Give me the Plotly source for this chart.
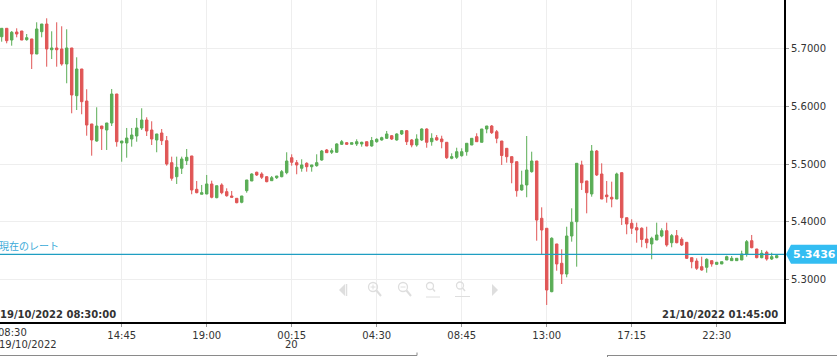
import plotly.graph_objects as go

# ---------------- data ----------------
OPEN = [5.7204, 5.7350, 5.7147, 5.7286, 5.7303, 5.7153, 5.7165, 5.6905, 5.7291, 5.7424,
        5.6979, 5.7009, 5.6992, 5.6732, 5.7009, 5.6183, 5.6645, 5.6091, 5.5693, 5.5398,
        5.5658, 5.5589, 5.5710, 5.6212, 5.5364, 5.5364, 5.5433, 5.5485, 5.5624, 5.5762,
        5.5589, 5.5416, 5.5537, 5.5404, 5.5023, 5.4780, 5.4926, 5.5057, 5.5139, 5.4562,
        5.4476, 5.4481, 5.4654, 5.4417, 5.4637, 5.4521, 5.4446, 5.4406, 5.4337, 5.4538,
        5.4706, 5.4857, 5.4827, 5.4780, 5.4711, 5.4763, 5.4780, 5.4850, 5.5109, 5.5023,
        5.4926, 5.5012, 5.4953, 5.4971, 5.5069, 5.5243, 5.5203, 5.5203, 5.5341, 5.5369,
        5.5341, 5.5347, 5.5347, 5.5386, 5.5312, 5.5386, 5.5416, 5.5445, 5.5490, 5.5416,
        5.5520, 5.5577, 5.5416, 5.5329, 5.5416, 5.5606, 5.5386, 5.5456, 5.5433, 5.5376,
        5.5099, 5.5116, 5.5144, 5.5213, 5.5329, 5.5473, 5.5376, 5.5606, 5.5658, 5.5559,
        5.5398, 5.5272, 5.5127, 5.5040, 5.4550, 5.4637, 5.4867, 5.5052, 5.4060, 5.3887,
        5.2789, 5.3615, 5.3281, 5.3095, 5.3753, 5.4001, 5.4983, 5.4706, 5.4481, 5.5225,
        5.4827, 5.4463, 5.4424, 5.4394, 5.4850, 5.4070, 5.3973, 5.3897, 5.3887, 5.3701,
        5.3615, 5.3684, 5.3753, 5.3845, 5.3637, 5.3759, 5.3696, 5.3644, 5.3378, 5.3320,
        5.3222, 5.3211, 5.3326, 5.3263, 5.3269, 5.3338, 5.3326, 5.3326, 5.3338, 5.3442,
        5.3672, 5.3528, 5.3378, 5.3471, 5.3355, 5.3378]
HIGH = [5.7355, 5.7355, 5.7303, 5.7350, 5.7305, 5.7251, 5.7167, 5.7454, 5.7426, 5.7523,
        5.7298, 5.7454, 5.7385, 5.7333, 5.7011, 5.6848, 5.6647, 5.6294, 5.5695, 5.5982,
        5.5660, 5.5712, 5.6299, 5.6214, 5.5400, 5.5624, 5.5624, 5.5797, 5.5965, 5.5809,
        5.5740, 5.5522, 5.5606, 5.5485, 5.5127, 5.5127, 5.5127, 5.5260, 5.5141, 5.4706,
        5.4637, 5.4810, 5.4711, 5.4626, 5.4666, 5.4579, 5.4533, 5.4408, 5.4448, 5.4725,
        5.4839, 5.4867, 5.4857, 5.4792, 5.4792, 5.4794, 5.4896, 5.5203, 5.5168, 5.5069,
        5.5082, 5.5030, 5.4985, 5.5168, 5.5243, 5.5260, 5.5272, 5.5359, 5.5416, 5.5381,
        5.5371, 5.5428, 5.5386, 5.5388, 5.5468, 5.5445, 5.5473, 5.5572, 5.5502, 5.5532,
        5.5589, 5.5589, 5.5433, 5.5514, 5.5618, 5.5618, 5.5532, 5.5502, 5.5490, 5.5378,
        5.5185, 5.5282, 5.5272, 5.5361, 5.5447, 5.5532, 5.5608, 5.5660, 5.5675, 5.5589,
        5.5400, 5.5274, 5.5129, 5.5042, 5.4884, 5.5485, 5.5213, 5.5054, 5.4250, 5.3889,
        5.3731, 5.3617, 5.3523, 5.3914, 5.4233, 5.5014, 5.5057, 5.4708, 5.5329, 5.5243,
        5.5012, 5.4706, 5.4694, 5.4850, 5.4852, 5.4072, 5.4043, 5.3984, 5.3904, 5.3914,
        5.3741, 5.3984, 5.3887, 5.3984, 5.3788, 5.3857, 5.3731, 5.3646, 5.3380, 5.3367,
        5.3395, 5.3367, 5.3328, 5.3303, 5.3310, 5.3412, 5.3407, 5.3369, 5.3499, 5.3684,
        5.3771, 5.3530, 5.3511, 5.3499, 5.3464, 5.3440]
LOW = [5.7118, 5.7090, 5.7049, 5.7194, 5.7145, 5.7135, 5.6645, 5.6903, 5.7194, 5.6685,
       5.6818, 5.6685, 5.6702, 5.6398, 5.5878, 5.5935, 5.5861, 5.5490, 5.5144, 5.5386,
       5.5243, 5.5243, 5.5658, 5.5300, 5.5040, 5.5109, 5.5300, 5.5386, 5.5589, 5.5485,
       5.5329, 5.5203, 5.5329, 5.4971, 5.4711, 5.4654, 5.4827, 5.4983, 5.4476, 5.4493,
       5.4474, 5.4476, 5.4406, 5.4406, 5.4476, 5.4434, 5.4417, 5.4320, 5.4320, 5.4503,
       5.4704, 5.4792, 5.4740, 5.4683, 5.4706, 5.4740, 5.4770, 5.4822, 5.4971, 5.4822,
       5.4867, 5.4867, 5.4867, 5.4953, 5.5057, 5.5194, 5.5173, 5.5196, 5.5329, 5.5329,
       5.5339, 5.5312, 5.5300, 5.5310, 5.5300, 5.5369, 5.5404, 5.5433, 5.5416, 5.5404,
       5.5502, 5.5329, 5.5289, 5.5300, 5.5398, 5.5282, 5.5317, 5.5404, 5.5272, 5.5087,
       5.5082, 5.5087, 5.5127, 5.5144, 5.5327, 5.5384, 5.5374, 5.5532, 5.5520, 5.5359,
       5.4983, 5.5023, 5.4666, 5.4434, 5.4538, 5.4424, 5.4850, 5.3672, 5.3424, 5.2559,
       5.2779, 5.3152, 5.2922, 5.3038, 5.3655, 5.3222, 5.4550, 5.4146, 5.4434, 5.4792,
       5.4392, 5.4330, 5.4250, 5.4392, 5.3944, 5.3783, 5.3788, 5.3637, 5.3558, 5.3540,
       5.3350, 5.3682, 5.3731, 5.3568, 5.3558, 5.3627, 5.3580, 5.3355, 5.3194, 5.3165,
       5.3152, 5.3118, 5.3222, 5.3256, 5.3267, 5.3336, 5.3324, 5.3324, 5.3336, 5.3395,
       5.3540, 5.3367, 5.3367, 5.3326, 5.3338, 5.3367]
CLOSE = [5.7350, 5.7135, 5.7281, 5.7251, 5.7147, 5.7187, 5.6905, 5.7338, 5.7424, 5.6992,
         5.7009, 5.6979, 5.6732, 5.7009, 5.6195, 5.6645, 5.6079, 5.5675, 5.5416, 5.5658,
         5.5611, 5.5710, 5.6212, 5.5386, 5.5398, 5.5450, 5.5502, 5.5624, 5.5762, 5.5572,
         5.5433, 5.5520, 5.5404, 5.5000, 5.4753, 5.4943, 5.5087, 5.5116, 5.4550, 5.4503,
         5.4503, 5.4654, 5.4424, 5.4624, 5.4503, 5.4451, 5.4424, 5.4330, 5.4446, 5.4723,
         5.4827, 5.4810, 5.4770, 5.4694, 5.4763, 5.4792, 5.4867, 5.5052, 5.5030, 5.4983,
         5.4983, 5.4953, 5.4983, 5.5023, 5.5225, 5.5196, 5.5230, 5.5347, 5.5386, 5.5341,
         5.5369, 5.5386, 5.5376, 5.5312, 5.5407, 5.5428, 5.5456, 5.5520, 5.5433, 5.5520,
         5.5577, 5.5386, 5.5329, 5.5433, 5.5606, 5.5376, 5.5445, 5.5416, 5.5386, 5.5109,
         5.5127, 5.5213, 5.5213, 5.5359, 5.5445, 5.5386, 5.5606, 5.5658, 5.5542, 5.5445,
         5.5147, 5.5127, 5.5023, 5.4538, 5.4637, 5.4896, 5.5052, 5.4030, 5.3857, 5.2818,
         5.3714, 5.3269, 5.3095, 5.3753, 5.3991, 5.5012, 5.4676, 5.4503, 5.5225, 5.4810,
         5.4394, 5.4434, 5.4394, 5.4827, 5.4070, 5.3961, 5.3887, 5.3857, 5.3693, 5.3637,
         5.3714, 5.3771, 5.3845, 5.3598, 5.3759, 5.3637, 5.3598, 5.3367, 5.3308, 5.3194,
         5.3165, 5.3350, 5.3269, 5.3298, 5.3308, 5.3395, 5.3367, 5.3367, 5.3442, 5.3655,
         5.3551, 5.3378, 5.3454, 5.3355, 5.3395, 5.3412]
BAR_INDEX = list(range(len(OPEN)))

TICK_POS = [24, 41, 58, 75, 92, 109, 126, 143]
TICK_TEXT = ["14:45", "19:00", "00:15", "04:30", "08:45", "13:00", "17:15", "22:30"]
SECOND_LINE_POS = [58]
SECOND_LINE_TEXT = ["20"]
FIRST_LABEL = ["08:30", "19/10/2022"]
RANGE_START = "19/10/2022 08:30:00"
RANGE_END = "21/10/2022 01:45:00"
Y_TICKS = [5.3, 5.4, 5.5, 5.6, 5.7]
LAST_RATE = 5.3436
RATE_LABEL = "現在のレート"

# ---------------- styling ----------------
W, H = 837, 357
ML, MR, MT, MB = 0, 53, 0, 35
PW, PH = W - ML - MR, H - MT - MB
X_RANGE = [-0.34, 156.46]
Y_RANGE = [5.2264, 5.784]
GREEN = "#5aad56"
RED = "#e05656"
GRID = "#eeeeee"
TEXT = "#333333"
ICON = "#dedede"
FONT = "DejaVu Sans"


def px(x):
    return x / PW


def py(y):
    return 1 - y / PH


fig = go.Figure()
fig.add_trace(go.Candlestick(
    x=BAR_INDEX, open=OPEN, high=HIGH, low=LOW, close=CLOSE,
    increasing=dict(line=dict(color=GREEN, width=1), fillcolor=GREEN),
    decreasing=dict(line=dict(color=RED, width=1), fillcolor=RED),
    whiskerwidth=0, hoverinfo="skip", showlegend=False))

shapes = []
annotations = []

# current rate line
shapes.append(dict(type="line", xref="paper", yref="y", x0=0, x1=1,
                   y0=LAST_RATE, y1=LAST_RATE, line=dict(color="#1f9ec2", width=1.2)))
annotations.append(dict(xref="paper", yref="y", x=0, y=LAST_RATE, xanchor="left",
                        yanchor="bottom", xshift=-3, yshift=-1, showarrow=False,
                        text=RATE_LABEL,
                        font=dict(family="Noto Sans CJK JP", size=10, color="#3aaad8")))

# right rate tag
yp = (LAST_RATE - Y_RANGE[0]) / (Y_RANGE[1] - Y_RANGE[0])
hh = 9.5 / PH
tip, xa, xr = px(786), px(791), px(840)
shapes.append(dict(type="path", xref="paper", yref="paper",
                   path=f"M {tip},{yp} L {xa},{yp+hh} L {xr},{yp+hh} L {xr},{yp-hh} L {xa},{yp-hh} Z",
                   fillcolor="#33bdf2", line=dict(width=0)))
annotations.append(dict(xref="paper", yref="paper", x=px(815), y=yp, xanchor="center",
                        yanchor="middle", showarrow=False, text="<b>%.4f</b>" % LAST_RATE,
                        font=dict(family=FONT, size=11, color="white")))

# range labels
annotations.append(dict(xref="paper", yref="paper", x=0, y=0, xanchor="left", yanchor="bottom",
                        xshift=-2, showarrow=False, text="<b>%s</b>" % RANGE_START,
                        font=dict(family=FONT, size=10, color=TEXT)))
annotations.append(dict(xref="paper", yref="paper", x=px(780), y=0, xanchor="right",
                        yanchor="bottom", showarrow=False, text="<b>%s</b>" % RANGE_END,
                        font=dict(family=FONT, size=10, color=TEXT)))

# first (clipped) x label and second lines
annotations.append(dict(xref="paper", yref="paper", x=px(-4), y=py(333), xanchor="left",
                        yanchor="middle", showarrow=False, text=FIRST_LABEL[0],
                        font=dict(family=FONT, size=10, color=TEXT)))
annotations.append(dict(xref="paper", yref="paper", x=px(-3), y=py(344), xanchor="left",
                        yanchor="middle", showarrow=False, text=FIRST_LABEL[1],
                        font=dict(family=FONT, size=10, color=TEXT)))
for pos, txt in zip(SECOND_LINE_POS, SECOND_LINE_TEXT):
    annotations.append(dict(xref="x", yref="paper", x=pos, y=py(344.5), xanchor="center",
                            yanchor="middle", showarrow=False, text=txt,
                            font=dict(family=FONT, size=10, color=TEXT)))

# bottom navigator frame lines
for a, b in [(0, 417), (607, 840)]:
    shapes.append(dict(type="line", xref="paper", yref="paper", x0=px(a), x1=px(b),
                       y0=py(355.5), y1=py(355.5), line=dict(color="#8a8a8a", width=1)))
shapes.append(dict(type="line", xref="paper", yref="paper", x0=px(417), x1=px(417),
                   y0=py(355.5), y1=py(352.5), line=dict(color="#8a8a8a", width=1)))
shapes.append(dict(type="line", xref="paper", yref="paper", x0=px(607.5), x1=px(607.5),
                   y0=py(355.5), y1=py(358), line=dict(color="#8a8a8a", width=1)))


# toolbar icons (faint)
def tri(points):
    d = "M " + " L ".join(f"{px(x)},{py(y)}" for x, y in points) + " Z"
    shapes.append(dict(type="path", xref="paper", yref="paper", path=d,
                       fillcolor=ICON, line=dict(width=0)))


def seg(x0, y0, x1, y1, w=1.5):
    shapes.append(dict(type="line", xref="paper", yref="paper", x0=px(x0), y0=py(y0),
                       x1=px(x1), y1=py(y1), line=dict(color=ICON, width=w)))


def circ(cx, cy, r):
    shapes.append(dict(type="circle", xref="paper", yref="paper", x0=px(cx - r), x1=px(cx + r),
                       y0=py(cy + r), y1=py(cy - r), line=dict(color=ICON, width=1.3)))


tri([(339, 290), (345, 284), (345, 296)])
seg(346.5, 284, 346.5, 296, 1.5)
circ(373, 287, 4.5)
seg(376.5, 290.5, 381, 296, 2)
seg(370.5, 287, 375.5, 287, 1)
seg(373, 284.5, 373, 289.5, 1)
circ(403, 287, 4.5)
seg(406.5, 290.5, 411, 296, 2)
seg(400.5, 287, 405.5, 287, 1)
circ(430, 286, 3.5)
seg(432.5, 288.5, 435, 291.5, 1.5)
seg(426, 297, 440, 297, 1)
circ(460, 285.5, 3.5)
seg(462.5, 288, 465, 291, 1.5)
seg(455, 296.5, 470, 296.5, 1)
tri([(498, 290), (492, 284), (492, 296)])

fig.update_layout(
    width=W, height=H, margin=dict(l=ML, r=MR, t=MT, b=MB, pad=0),
    paper_bgcolor="white", plot_bgcolor="white", showlegend=False,
    font=dict(family=FONT, size=10, color=TEXT),
    xaxis=dict(range=X_RANGE, tickmode="array", tickvals=TICK_POS, ticktext=TICK_TEXT,
               showgrid=True, gridcolor=GRID, gridwidth=1, showline=True, linecolor="black",
               linewidth=2, ticks="outside", ticklen=3, tickcolor="#999", zeroline=False,
               rangeslider=dict(visible=False), automargin=False, fixedrange=True,
               tickfont=dict(family=FONT, size=10, color=TEXT)),
    yaxis=dict(range=Y_RANGE, side="right", tickmode="array", tickvals=Y_TICKS,
               tickformat=".4f", showgrid=True, gridcolor=GRID, gridwidth=1, showline=True,
               linecolor="black", linewidth=2, ticks="outside", ticklen=3, tickcolor="#999",
               zeroline=False, automargin=False, fixedrange=True,
               tickfont=dict(family=FONT, size=10, color=TEXT)),
    shapes=shapes, annotations=annotations,
)

fig.write_html("out.html", config={"displayModeBar": False},
               post_script="document.body.style.margin='0';document.body.style.overflow='hidden';")
